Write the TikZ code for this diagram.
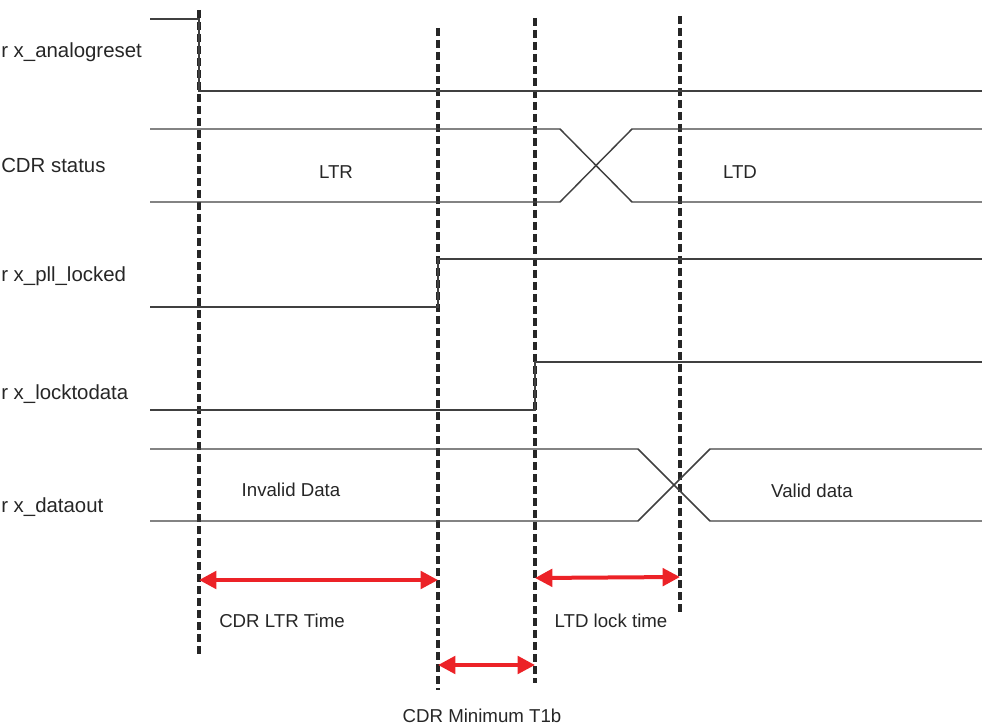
\documentclass[tikz,border=0pt]{standalone}
\usepackage{fontspec}
\setmainfont{Liberation Sans}
\usetikzlibrary{arrows.meta}
\definecolor{arrred}{RGB}{236,34,39}
\begin{document}
\begin{tikzpicture}[x=0.75pt,y=-0.75pt,
  sig/.style={line width=1.1pt, black!75},
  guide/.style={line width=2.6pt, black!85, dash pattern=on 6pt off 3pt},
  span/.style={line width=3pt, arrred, {Triangle[length=13pt,width=13pt]}-{Triangle[length=13pt,width=13pt]}},
  lbl/.style={font=\fontsize{14}{16}\selectfont, text=black!85, inner sep=0pt},
  siglbl/.style={font=\fontsize{15.3}{17}\selectfont, text=black!85, inner sep=0pt, anchor=west},
]
\useasboundingbox (0,0) rectangle (982,727);

% guide coordinates
\coordinate (g1t) at (199,10);  \coordinate (g1b) at (199,656);
\coordinate (g2t) at (438,28);  \coordinate (g2b) at (438,690);
\coordinate (g3t) at (535,18);  \coordinate (g3b) at (535,683);
\coordinate (g4t) at (680,16);  \coordinate (g4b) at (680,612);

% dashed guides
\draw[guide] (g1t) -- (g1b);
\draw[guide] (g2t) -- (g2b);
\draw[guide] (g3t) -- (g3b);
\draw[guide] (g4t) -- (g4b);

% rx_analogreset
\draw[sig] (150,19) -- (199,19) -- (199,91) -- (982,91);
% CDR status
\draw[sig] (150,129) -- (560,129) -- (632,202) -- (982,202);
\draw[sig] (150,202) -- (560,202) -- (632,129) -- (982,129);
% rx_pll_locked
\draw[sig] (150,307) -- (438,307) -- (438,259) -- (982,259);
% rx_locktodata
\draw[sig] (150,410) -- (535,410) -- (535,362) -- (982,362);
% rx_dataout
\draw[sig] (150,449) -- (638,449) -- (710,521) -- (982,521);
\draw[sig] (150,521) -- (638,521) -- (710,449) -- (982,449);

% signal labels
\node[siglbl] (l1) at (1,52) {r x\_analogreset};
\node[siglbl] (l2) at (1,165) {CDR status};
\node[siglbl] (l3) at (1,276) {r x\_pll\_locked};
\node[siglbl] (l4) at (1,394) {r x\_locktodata};
\node[siglbl] (l5) at (1,507) {r x\_dataout};

% bus values
\node[lbl] (ltr) at (336,172) {LTR};
\node[lbl] (ltd) at (740,172) {LTD};
\node[lbl] (inv) at (291,490) {Invalid Data};
\node[lbl] (val) at (812,491) {Valid data};

% spans
\coordinate (a1l) at (199,580); \coordinate (a1r) at (438,580);
\coordinate (a2l) at (535,578); \coordinate (a2r) at (680,577);
\coordinate (a3l) at (438,665); \coordinate (a3r) at (535,665);
\draw[span] (a1l) -- (a1r);
\draw[span] (a2l) -- (a2r);
\draw[span] (a3l) -- (a3r);

\node[lbl] (t1) at (282,621) {CDR LTR Time};
\node[lbl] (t2) at (611,621) {LTD lock time};
\node[lbl] (t3) at (482,716) {CDR Minimum T1b};
\end{tikzpicture}
\end{document}
